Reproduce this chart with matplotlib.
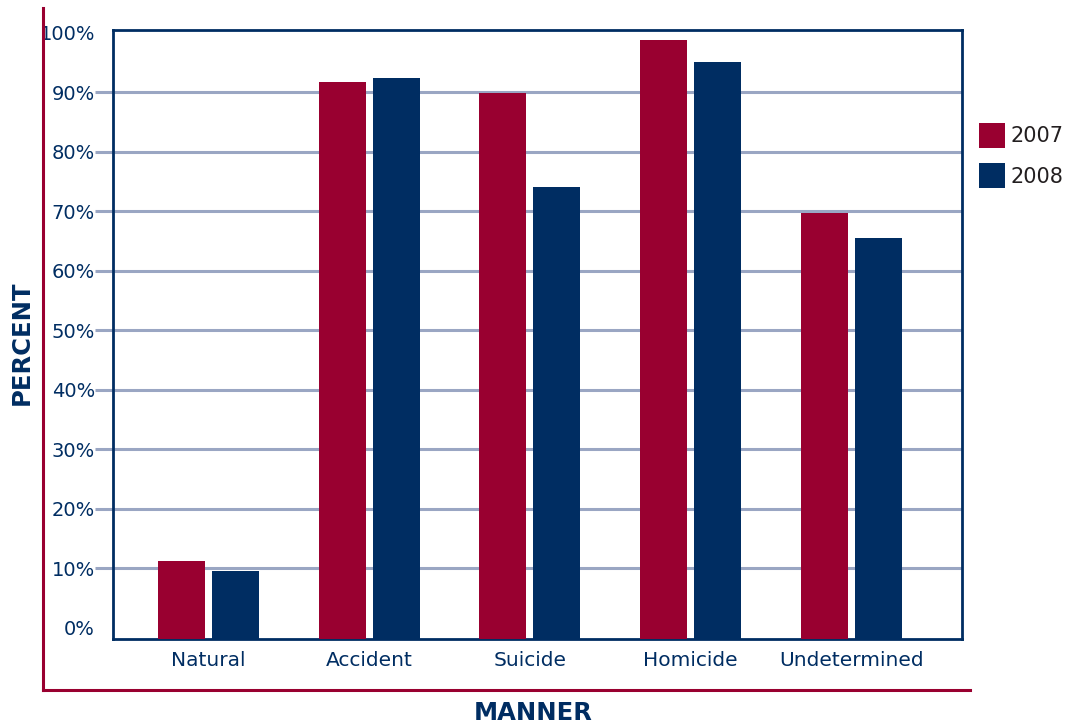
import numpy as np
import matplotlib.pyplot as plt
from matplotlib.lines import Line2D

# data
categories = ["Natural", "Accident", "Suicide", "Homicide", "Undetermined"]
years = ["2007", "2008"]
pct_2007 = [11.3, 91.8, 89.9, 98.8, 69.7]
pct_2008 = [9.6, 92.4, 74.1, 95.1, 65.5]
y_ticks = list(range(0, 101, 10))
y_ticklabels = [f"{t}%" for t in y_ticks]

RED = "#990030"
NAVY = "#002D62"
GRID = "#9AA6C3"

fig = plt.figure(figsize=(10.68, 7.28), dpi=100)
ax = fig.add_axes([113/1068, 89/728, (962-113)/1068, (639-30)/728])

ymin, ymax = -1.85, 100.5
x = np.arange(len(categories))
w = 0.292
off = 0.168
ax.bar(x - off, np.array(pct_2007) - ymin, w, bottom=ymin, color=RED, label=years[0], zorder=3)
ax.bar(x + off, np.array(pct_2008) - ymin, w, bottom=ymin, color=NAVY, label=years[1], zorder=3)

ax.set_ylim(ymin, ymax)
ax.set_xlim(-0.594, 4.69)

# grid lines 10..90
for t in y_ticks[1:-1]:
    ax.axhline(t, color=GRID, lw=2.2, zorder=1)

ax.set_yticks(y_ticks)
ax.set_yticklabels(y_ticklabels)
ax.tick_params(axis="y", length=13, width=2.2, color=GRID, pad=0,
               labelsize=14, labelcolor=NAVY)
for i in (0, len(y_ticks) - 1):
    ax.yaxis.get_major_ticks()[i].tick1line.set_visible(False)

ax.set_xticks(x)
ax.set_xticklabels(categories)
ax.tick_params(axis="x", length=0, pad=9, labelsize=14.5, labelcolor=NAVY)

for s in ax.spines.values():
    s.set_color(NAVY)
    s.set_linewidth(2)

# red frame
fig.add_artist(Line2D([43/1068, 43/1068], [38/728, 720/728], color=RED, lw=2.2))
fig.add_artist(Line2D([43/1068, 970/1068], [38/728, 38/728], color=RED, lw=2.2))

fig.text(22/1068, 1 - 343/728, "PERCENT", rotation=90, ha="center", va="center",
         fontsize=17.5, fontweight="heavy", color=NAVY)
fig.text(533/1068, 1 - 713/728, "MANNER", ha="center", va="center",
         fontsize=17.5, fontweight="heavy", color=NAVY)

ax.legend(loc="upper left", bbox_to_anchor=(1.02, 0.848), frameon=False,
          fontsize=15, handlelength=1.25, handleheight=1.5, handletextpad=0.25,
          labelspacing=0.72, borderpad=0, borderaxespad=0, labelcolor="#231F20")

fig.savefig("out.png", dpi=100)
